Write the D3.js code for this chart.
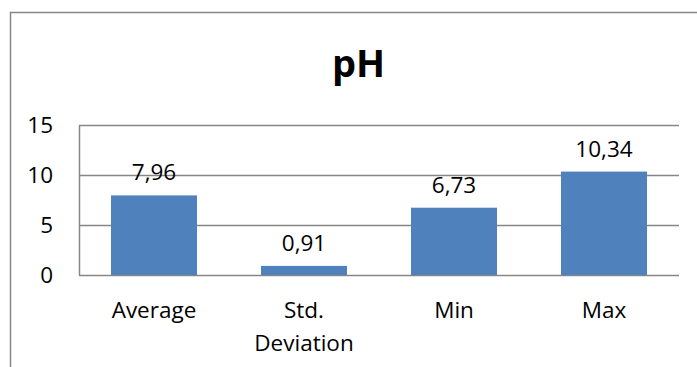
<!DOCTYPE html>
<html><head><meta charset="utf-8">
<script src="https://cdn.jsdelivr.net/npm/d3@7"></script>
<style>body{margin:0;background:#fff}svg{display:block}</style>
</head><body>
<script>
const categories = [["Average"], ["Std.", "Deviation"], ["Min"], ["Max"]];
const values = [7.96, 0.91, 6.73, 10.34];
const valueLabels = ["7,96", "0,91", "6,73", "10,34"];
const yTicks = [0, 5, 10, 15];
const title = "pH";

const W = 697, H = 367;
const svg = d3.select("body").append("svg").attr("width", W).attr("height", H);
const font = "'Open Sans', sans-serif";

// outer chart border (extends beyond right/bottom of view)
svg.append("rect").attr("x", 10.5).attr("y", 12.5).attr("width", 700).attr("height", 400)
  .attr("fill", "none").attr("stroke", "#868686").attr("stroke-width", 1.5);

svg.append("text").attr("x", 358.5).attr("y", 77).attr("text-anchor", "middle")
  .attr("font-family", font).attr("font-weight", "bold").attr("font-size", 38).text(title);

const pLeft = 79, pRight = 679, pTop = 125, pBottom = 275;
const keys = categories.map(c => c.join(" "));
const x = d3.scaleBand().domain(keys).range([pLeft, pRight]).paddingInner(0.4267).paddingOuter(0.2133);
const y = d3.scaleLinear().domain([0, 15]).range([pBottom, pTop]);

// gridlines
svg.append("g").selectAll("line").data(yTicks).join("line")
  .attr("x1", pLeft).attr("x2", pRight)
  .attr("y1", d => Math.round(y(d)) + 0.5).attr("y2", d => Math.round(y(d)) + 0.5)
  .attr("stroke", "#868686").attr("stroke-width", 1.5);
// y axis line
svg.append("line").attr("x1", pLeft + 0.5).attr("x2", pLeft + 0.5).attr("y1", pTop).attr("y2", pBottom)
  .attr("stroke", "#868686").attr("stroke-width", 1.5);

// y tick labels
svg.append("g").selectAll("text").data(yTicks).join("text")
  .attr("x", 53).attr("y", d => y(d) + 8).attr("text-anchor", "end")
  .attr("font-family", font).attr("font-size", 22.5).attr("fill", "#000").text(d => d);

// bars
svg.append("g").selectAll("rect").data(values).join("rect")
  .attr("x", (d, i) => x(keys[i])).attr("width", x.bandwidth())
  .attr("y", d => y(d)).attr("height", d => y(0) - y(d))
  .attr("fill", "#4F81BD");

// value labels
svg.append("g").selectAll("text").data(values).join("text")
  .attr("x", (d, i) => x(keys[i]) + x.bandwidth() / 2).attr("y", d => y(d) - 15)
  .attr("text-anchor", "middle").attr("font-family", font).attr("font-size", 22.5)
  .attr("fill", "#000").text((d, i) => valueLabels[i]);

// category labels
const cat = svg.append("g").selectAll("text").data(categories).join("text")
  .attr("x", (d, i) => x(keys[i]) + x.bandwidth() / 2).attr("y", 318)
  .attr("text-anchor", "middle").attr("font-family", font).attr("font-size", 22.5).attr("fill", "#000");
cat.selectAll("tspan").data(d => d).join("tspan")
  .attr("x", function() { return this.parentNode.getAttribute("x"); })
  .attr("dy", (d, i) => i === 0 ? 0 : 33).text(d => d);
</script>
</body></html>
